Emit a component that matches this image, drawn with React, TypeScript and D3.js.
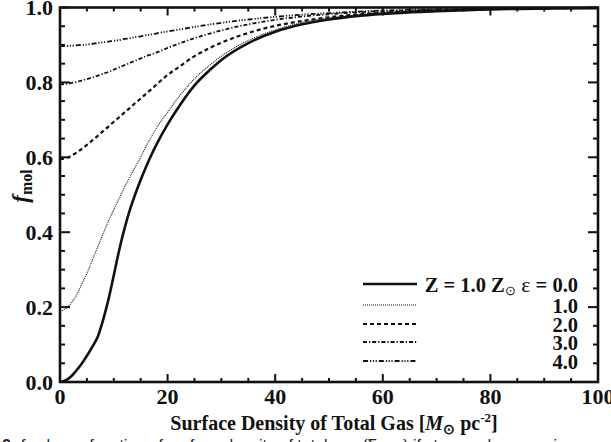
import React from "react";
import * as d3 from "d3";

const xGrid = [0,1,2,3,4,5,6,7,8,9,10,11,12,13,14,15,16,17,18,20,22,25,28,30,35,40,45,50,55,60,70,80,90,100];
const eps0 = [0,0.004,0.014,0.03,0.048,0.07,0.094,0.12,0.165,0.22,0.285,0.352,0.41,0.46,0.502,0.54,0.575,0.607,0.636,0.688,0.733,0.792,0.835,0.86,0.905,0.935,0.955,0.968,0.977,0.983,0.99,0.995,0.997,0.998];
const eps1 = [0.19,0.195,0.21,0.23,0.26,0.29,0.325,0.36,0.395,0.43,0.46,0.49,0.52,0.548,0.575,0.6,0.63,0.655,0.68,0.72,0.76,0.81,0.848,0.87,0.912,0.94,0.96,0.972,0.98,0.986,0.992,0.996,0.998,0.999];
const eps2 = [0.595,0.597,0.603,0.612,0.622,0.633,0.645,0.657,0.67,0.682,0.695,0.707,0.72,0.732,0.745,0.757,0.77,0.782,0.795,0.82,0.84,0.87,0.893,0.906,0.932,0.951,0.964,0.974,0.981,0.986,0.992,0.996,0.998,0.999];
const eps3 = [0.795,0.796,0.798,0.801,0.805,0.809,0.813,0.818,0.823,0.828,0.834,0.84,0.846,0.852,0.858,0.864,0.87,0.875,0.88,0.892,0.903,0.918,0.931,0.939,0.955,0.967,0.976,0.982,0.987,0.99,0.994,0.997,0.998,0.999];
const eps4 = [0.897,0.897,0.898,0.899,0.9,0.901,0.903,0.905,0.907,0.909,0.911,0.913,0.916,0.918,0.921,0.923,0.926,0.928,0.931,0.936,0.941,0.948,0.955,0.959,0.968,0.975,0.981,0.985,0.989,0.992,0.995,0.997,0.998,0.999];
const legendLabels = ["0.0", "1.0", "2.0", "3.0", "4.0"];
const xTicks = [0, 20, 40, 60, 80, 100];
const yTicks = [0, 0.2, 0.4, 0.6, 0.8, 1.0];

const W = 611, H = 442;
const L = 60, R = 598, T = 7.5, B = 382;
const FONT = "'Liberation Serif', 'Times New Roman', serif";

const styles = [
  { w: 2.6, dash: "" },
  { w: 1.1, dash: "1,1" },
  { w: 2.2, dash: "4,3" },
  { w: 1.8, dash: "4,2,1.2,2" },
  { w: 1.8, dash: "5,2,1.2,1.6,1.2,1.6,1.2,2" },
];

export default function App() {
  const x = d3.scaleLinear().domain([0, 100]).range([L, R]);
  const y = d3.scaleLinear().domain([0, 1]).range([B, T]);
  const series = [eps0, eps1, eps2, eps3, eps4];
  const line = d3.line<[number, number]>().x(d => x(d[0])).y(d => y(d[1])).curve(d3.curveMonotoneX);
  const xMinor = d3.range(0, 101, 5);
  const yMinor = d3.range(0, 1.0001, 0.05);
  const legY = [285, 306, 325, 343, 362];
  return (
    <svg width={W} height={H} style={{ position: "absolute", left: 0, top: 0, background: "#fff" }}>
      <rect width={W} height={H} fill="#fff" />
      <defs>
        <clipPath id="pc"><rect x={L} y={T - 1} width={R - L} height={B - T + 1} /></clipPath>
      </defs>
      <g clipPath="url(#pc)" fill="none" stroke="#111">
        {series.map((s, i) => (
          <path key={i} d={line(xGrid.map((v, j) => [v, s[j]] as [number, number])) || ""}
            strokeWidth={styles[i].w} strokeDasharray={styles[i].dash} />
        ))}
      </g>
      {/* ticks */}
      <g stroke="#111" strokeWidth={2}>
        {xMinor.map(v => {
          const major = v % 20 === 0;
          const len = major ? 8 : 4;
          return (
            <g key={"x" + v}>
              <line x1={x(v)} x2={x(v)} y1={B} y2={B - len} />
              <line x1={x(v)} x2={x(v)} y1={T} y2={T + len} />
            </g>
          );
        })}
        {yMinor.map((v, i) => {
          const major = i % 4 === 0;
          const len = major ? 10 : 5;
          return (
            <g key={"y" + i}>
              <line x1={L} x2={L + len} y1={y(v)} y2={y(v)} />
              <line x1={R} x2={R - len} y1={y(v)} y2={y(v)} />
            </g>
          );
        })}
      </g>
      <rect x={L} y={T} width={R - L} height={B - T} fill="none" stroke="#111" strokeWidth={2.6} />
      {/* tick labels */}
      <g fontFamily={FONT} fontWeight="bold" fontSize={22} fill="#111">
        {xTicks.map(v => (
          <text key={v} x={x(v)} y={404} textAnchor="middle">{v}</text>
        ))}
        {yTicks.map(v => (
          <text key={v} x={53} y={y(v) + 7.5} textAnchor="end">{v.toFixed(1)}</text>
        ))}
      </g>
      {/* axis titles */}
      <text fontFamily={FONT} fontWeight="bold" fontSize={20} fill="#111" x={334} y={430} textAnchor="middle">
        Surface Density of Total Gas [<tspan fontStyle="italic">M</tspan>
        <tspan fontSize={14} dy={4}>⊙</tspan>
        <tspan dy={-4}> pc</tspan>
        <tspan fontSize={13} dy={-8}>-2</tspan>
        <tspan dy={8}>]</tspan>
      </text>
      <text fontFamily={FONT} fontWeight="bold" fontSize={23} fill="#111" transform="translate(28,186) rotate(-90)" textAnchor="middle">
        <tspan fontStyle="italic">f</tspan>
        <tspan fontSize={16} dy={4}>mol</tspan>
      </text>
      {/* legend */}
      <g>
        {legendLabels.map((lab, i) => (
          <g key={lab}>
            <line x1={363} x2={417} y1={legY[i] - 1} y2={legY[i] - 1} stroke="#111"
              strokeWidth={styles[i].w} strokeDasharray={styles[i].dash} />
            {i === 0 ? (
              <text fontFamily={FONT} fontWeight="bold" fontSize={20.5} fill="#111" x={578} y={legY[i] + 7} textAnchor="end">
                Z = 1.0 Z<tspan fontSize={13} fontWeight="normal" dy={3}>⊙</tspan>
                <tspan dy={-3} fontWeight="normal" fontSize={22}> ε</tspan> = {lab}
              </text>
            ) : (
              <text fontFamily={FONT} fontWeight="bold" fontSize={20.5} fill="#111" x={578} y={legY[i] + 7} textAnchor="end">{lab}</text>
            )}
          </g>
        ))}
      </g>
      {/* caption (cut off at bottom) */}
      <text fontFamily="'Liberation Sans', Arial, sans-serif" fontSize={16} fill="#222" x={2} y={450.5}>
        <tspan fontWeight="bold">2.</tspan>  <tspan fontStyle="italic">f</tspan>mol as a function of surface density of total gas (Σgas) if stars and gas are in
      </text>
    </svg>
  );
}
